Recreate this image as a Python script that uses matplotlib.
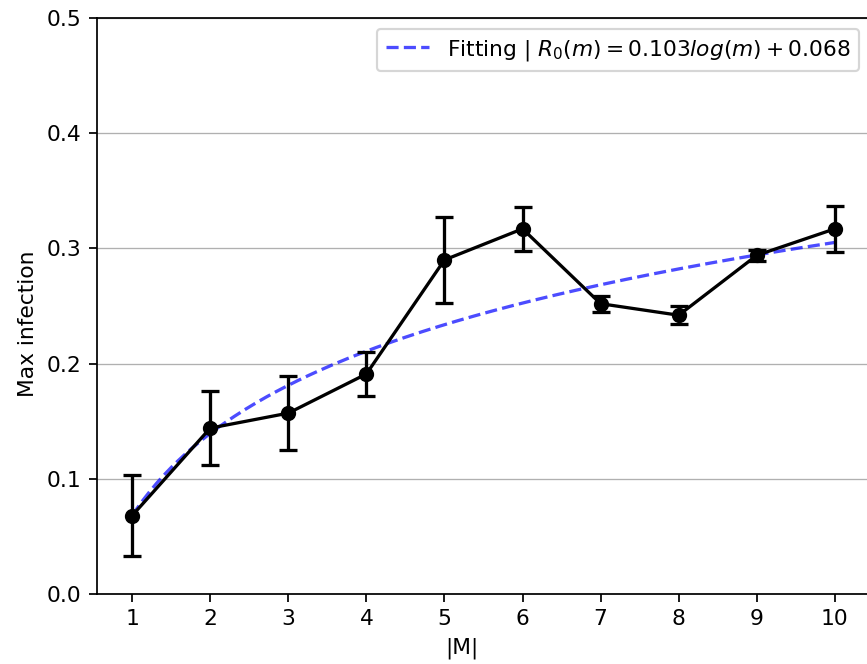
import numpy as np
import matplotlib
matplotlib.use("Agg")
import matplotlib.pyplot as plt

m_values = [1, 2, 3, 4, 5, 6, 7, 8, 9, 10]
max_infection = [0.068, 0.144, 0.157, 0.191, 0.290, 0.317, 0.252, 0.242, 0.294, 0.317]
errors = [0.035, 0.032, 0.032, 0.019, 0.037, 0.019, 0.007, 0.008, 0.005, 0.020]
fit_a = 0.103
fit_b = 0.068

DPI = 157
fig = plt.figure(figsize=(867/DPI, 664/DPI), dpi=DPI)
ax = fig.add_axes([97/867, 70/664, (870-97)/867, (594-18)/664])

mm = np.linspace(1, 10, 200)
ax.plot(mm, fit_a*np.log(mm) + fit_b, '--', color='blue', alpha=0.7, lw=1.5,
        label=r'Fitting | $R_0(m) = 0.103log(m) + 0.068$')
ax.errorbar(m_values, max_infection, yerr=errors, color='black', marker='o',
            markersize=6, lw=1.5, elinewidth=1.5, capsize=4, capthick=1.5)

ax.set_ylim(0, 0.5)
ax.set_xticks(m_values)
ax.yaxis.grid(True, color='#b0b0b0', lw=0.6)
ax.set_axisbelow(True)
ax.set_xlabel('|M|')
ax.set_ylabel('Max infection')
ax.xaxis.label.set_x(0.472)
ax.yaxis.label.set_y(0.469)
ax.legend(loc='upper right')

fig.savefig('out.png', dpi=DPI)
